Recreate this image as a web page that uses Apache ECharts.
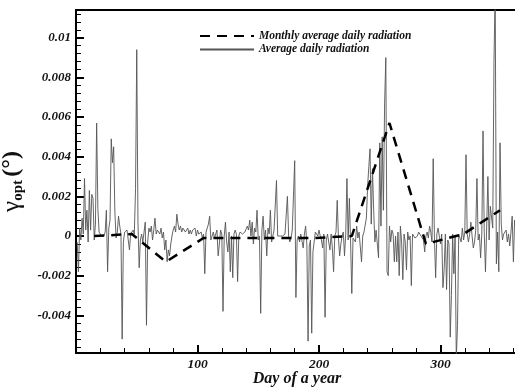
<!DOCTYPE html>
<html>
<head>
<meta charset="utf-8">
<script src="https://cdn.jsdelivr.net/npm/echarts@6/dist/echarts.min.js"></script>
<style>
  html, body { margin: 0; padding: 0; background: #fff; }
  #chart-container { width: 515px; height: 387px; }
</style>
</head>
<body>
<div id="chart-container"></div>
<script>
const serifFont = "'Liberation Serif', 'Times New Roman', serif"

// daily values, day 1..365
const dailyGamma = [
  -0.0003, -0.0018, 0.0004, -0.0002, 0.0009, 0.0001, 0.0029, 0.0003, 0.0013, -0.0003,
  0.0023, 0.0003, 0.0021, 0.0019, -0.0002, 0.0006, 0.0057, 0.0014, 0.0002, 0.0001,
  0, 0.0001, 0, 0.0002, 0.0013, -0.0018, 0.0004, 0.0008, 0.0049, 0.0037,
  0.0045, 0.0012, -0.0001, 0.0002, 0.001, 0.0005, 0.0001, -0.0052, -0.0003, 0.0002,
  0.0001, 0.0003, -0.0002, -0.0007, 0.0001, 0.0002, 0.0003, 0.0001, 0.0024, 0.0094,
  0.0007, -0.0016, -0.0002, 0.0001, -0.0003, 0.0002, 0.0007, -0.0045, -0.0003, 0.0004,
  0.0002, 0.0005, -0.0002, 0.0003, 0.0009, 0.0001, 0.0003, 0.0002, 0.0001, 0.0004,
  -0.0001, 0.0002, -0.0007, -0.0002, -0.0013, -0.0007, -0.001, -0.0004, 0, 0.0003,
  0.0005, 0.0002, 0.0011, 0.0006, 0.0003, 0.0005, 0.0002, 0.0004, 0.0003, 0.0002,
  0.0001, 0.0004, 0.0001, 0.0003, 0.0001, 0.0003, 0.0002, 0.0004, 0, 0.0003,
  0.0001, 0, 0.0002, -0.0001, 0.0001, -0.0019, 0.0002, 0.0004, 0.0006, 0.001,
  -0.0002, 0, 0.0002, -0.0001, -0.0002, 0.0003, -0.001, -0.0004, 0.0003, 0.0001,
  -0.0038, 0, 0.0007, -0.0003, -0.0008, 0.0002, -0.0018, 0, -0.0021, 0.0001,
  0.0003, 0.0001, -0.0023, 0, 0.0002, 0.0001, 0.0001, 0, 0.0002, 0.0001,
  0.0005, 0.0003, 0.0008, 0, 0.0007, -0.0004, 0.0004, 0.0002, 0.0013, -0.0002,
  0, -0.0039, 0.0003, 0.001, -0.0002, 0.0003, -0.001, 0.0004, 0.0001, 0.0013,
  -0.0003, 0, 0.0003, 0.0002, 0.0028, 0, 0.0001, 0, 0.0001, 0,
  0, 0.0001, 0, 0.002, 0, -0.0003, -0.0001, 0.0003, 0.0004, 0.0038,
  -0.0031, -0.0002, 0, -0.0003, 0.0001, 0, -0.0006, 0.0001, 0.0005, -0.0004,
  -0.0053, -0.0005, -0.0002, -0.0049, -0.0008, -0.0003, 0.0002, 0.0001, 0, 0.0003,
  0, -0.0002, -0.0006, 0.0001, -0.0041, -0.0002, 0.0001, -0.0003, -0.0007, 0.0001,
  -0.0006, -0.0018, 0, 0.0002, 0.0018, -0.0001, -0.001, -0.0004, 0, 0.0002,
  -0.001, 0.0001, 0.0029, -0.0002, 0.0019, -0.0003, -0.0029, -0.0001, 0, -0.0003,
  0.0005, -0.0001, 0.0002, 0.0001, -0.0013, 0, 0.0002, 0.0001, 0.0009, 0.0025,
  0.0035, 0.0044, 0.0006, 0.0034, 0.0013, -0.0003, 0.0003, 0.0004, -0.0011, 0.0047,
  0.0005, 0.005, 0.0013, 0.0067, 0.009, -0.0018, -0.002, 0.0005, -0.0003, 0.0003,
  0.0001, -0.0013, 0, -0.0013, 0.0002, -0.002, 0.0005, -0.0003, -0.0022, 0.0001,
  -0.0003, -0.0017, 0.0002, -0.0002, 0, -0.0025, 0.0001, 0.0002, -0.0001, 0,
  0, 0.0002, 0.0001, 0, 0.0001, -0.0002, -0.0008, 0, 0.0002, -0.0001,
  0.0005, 0.0002, -0.0003, 0.0039, -0.0001, -0.0021, 0.0001, 0.0004, 0, -0.0004,
  0.0001, -0.0026, -0.0017, 0.0001, -0.0027, -0.0002, -0.0004, -0.0051, -0.003, 0.0001,
  -0.0019, 0, -0.0062, -0.0045, 0.0001, 0, -0.0003, 0.0004, -0.0002, 0.0002,
  0.0041, 0.0001, -0.0003, 0.0001, 0.0007, 0, -0.0006, -0.0003, 0.0003, 0.0029,
  -0.0002, 0.0001, -0.0011, 0.0001, 0.0053, 0.0002, -0.0018, 0.0004, 0.003, -0.0002,
  0.0015, 0.0016, 0.0004, 0.0087, 0.0125, -0.0014, 0.0002, -0.0018, 0.0047, 0.0006,
  -0.0002, 0.0001, 0, 0.0003, -0.0003, 0.0001, -0.0005, 0.0002, 0.001, -0.0013,
  0.0008, 0.0003, -0.0002, 0.0004, 0.0001
]

// monthly averages at mid-month days
const monthDays = [15, 46, 74, 105, 135, 166, 196, 227, 258, 288, 319, 349]
const monthlyGamma = [0, 0.0001, -0.0013, -0.0001, -0.0001, -0.0001, -0.0001, 0, 0.0057, -0.0004, 0.0001, 0.0013]

const seriesNames = ["Monthly average daily radiation", "Average daily radiation"]

const dom = document.getElementById("chart-container")
const myChart = echarts.init(dom, null, { renderer: "canvas" })

const labelStyle = {
  fontFamily: serifFont,
  fontStyle: "italic",
  fontWeight: "bold",
  color: "#111"
}

const commonXAxis = {
  type: "value",
  min: 0,
  max: 400,
  interval: 100,
  axisLine: { show: true, onZero: false, lineStyle: { color: "#000", width: 2 } },
  splitLine: { show: false }
}

const option = {
  animation: false,
  backgroundColor: "#fff",
  // plot runs past the right edge, as in the cropped original
  grid: { left: 76, right: -47, top: 10, bottom: 34, outerBoundsMode: "none", containLabel: false },
  legend: {
    data: seriesNames,
    orient: "vertical",
    left: 194,
    top: 25,
    itemWidth: 54,
    itemHeight: 12,
    itemGap: 1.5,
    itemStyle: { opacity: 0 },
    textStyle: { ...labelStyle, fontSize: 11.5 }
  },
  xAxis: [
    {
      ...commonXAxis,
      position: "bottom",
      name: "Day of a year",
      nameLocation: "middle",
      nameGap: 18,
      nameMoveOverlap: false,
      nameTextStyle: { ...labelStyle, fontSize: 16, padding: [0, 44, 0, 0] },
      axisTick: { inside: true, length: 8, lineStyle: { color: "#000", width: 2 } },
      minorTick: { show: true, splitNumber: 5, length: 5, lineStyle: { color: "#000", width: 1 } },
      axisLabel: { ...labelStyle, fontSize: 13.5, margin: 5, showMinLabel: false }
    },
    {
      ...commonXAxis,
      position: "top",
      axisTick: { show: false },
      axisLabel: { show: false }
    }
  ],
  yAxis: {
    type: "value",
    min: -0.0059,
    max: 0.0114,
    minInterval: 0.002,
    maxInterval: 0.002,
    splitNumber: 8,
    name: "{g|γ}{s|opt} {p|(°)}",
    nameLocation: "middle",
    nameRotate: 90,
    nameGap: 50,
    nameMoveOverlap: false,
    nameTextStyle: {
      rich: {
        g: { fontFamily: serifFont, fontSize: 25, color: "#111", lineHeight: 28 },
        s: { fontFamily: serifFont, fontSize: 15, fontWeight: "bold", color: "#111", verticalAlign: "bottom", lineHeight: 28, padding: [7, 0, 0, 0] },
        p: { fontFamily: serifFont, fontSize: 24, fontWeight: "bold", color: "#111", lineHeight: 28 }
      }
    },
    axisLine: { show: true, onZero: false, lineStyle: { color: "#000", width: 2 } },
    axisTick: { inside: true, length: 8, lineStyle: { color: "#000", width: 2 } },
    minorTick: { show: true, splitNumber: 5, length: 5, lineStyle: { color: "#000", width: 1 } },
    axisLabel: { ...labelStyle, fontSize: 13, margin: 5, showMinLabel: false, showMaxLabel: false },
    splitLine: { show: false }
  },
  series: [
    {
      name: seriesNames[1],
      type: "line",
      data: dailyGamma.map((v, i) => [i + 1, v]),
      showSymbol: false,
      symbol: "none",
      lineStyle: { color: "#555", width: 0.9 },
      z: 2
    },
    {
      name: seriesNames[0],
      type: "line",
      data: monthDays.map((d, i) => [d, monthlyGamma[i]]),
      showSymbol: false,
      symbol: "none",
      lineStyle: { color: "#000", width: 2.5, type: [10, 7] },
      z: 3
    }
  ]
}

myChart.setOption(option)
</script>
</body>
</html>
